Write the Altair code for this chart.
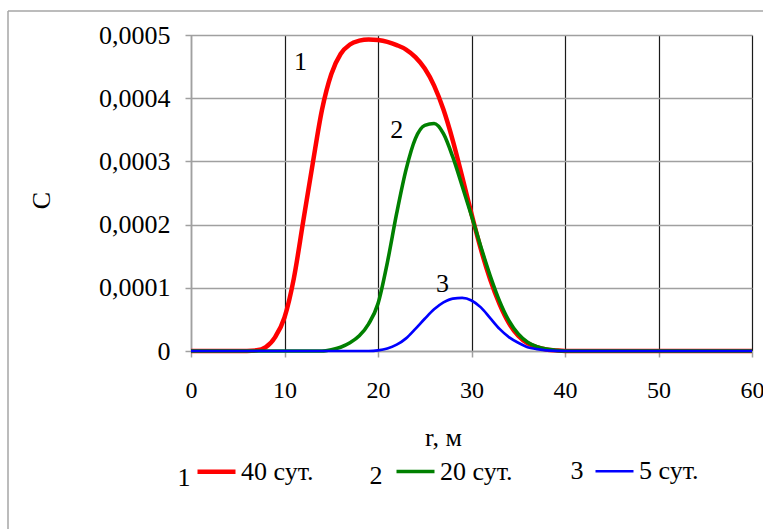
import altair as alt
import pandas as pd

# ---- data ----
series_names = ["40 сут.", "20 сут.", "5 сут."]
series_colors = ["#ff0000", "#008000", "#0000ff"]

r_40 = [0, 5, 7, 8, 9, 10, 11, 12, 13, 14, 15, 16, 17, 18, 19, 20, 21, 22, 23, 24, 25, 26, 27, 28,
        29, 30, 31, 32, 33, 34, 35, 36, 37, 38, 39, 40, 45, 50, 55, 60]
c_40 = [0, 0, 0.000001, 0.000006, 0.000022, 0.000053, 0.000115, 0.000205, 0.000295, 0.000381,
        0.000438, 0.000470, 0.000485, 0.000491, 0.000493, 0.000492, 0.000489, 0.000484, 0.000477,
        0.000465, 0.000447, 0.000420, 0.000382, 0.000333, 0.000276, 0.000217, 0.000161, 0.000113,
        0.000074, 0.000044, 0.000024, 0.000012, 0.000006, 0.0000025, 0.000001, 0, 0, 0, 0, 0]

r_20 = [0, 10, 14, 15, 16, 17, 18, 19, 20, 21, 22, 23, 24, 25, 26, 27, 28, 29, 30, 31, 32, 33,
        34, 35, 36, 37, 38, 39, 40, 45, 50, 55, 60]
c_20 = [0, 0, 0, 0.000002, 0.000006, 0.000013, 0.000024, 0.000043, 0.000075, 0.000140, 0.000218,
        0.000287, 0.000336, 0.000357, 0.000360, 0.000344, 0.000307, 0.000261, 0.000214, 0.000165,
        0.000119, 0.000079, 0.000048, 0.000027, 0.000014, 0.000007, 0.000003, 0.000001, 0, 0, 0,
        0, 0]

r_5 = [0, 10, 19, 20, 21, 22, 23, 24, 25, 26, 27, 28, 29, 30, 31, 32, 33, 34, 35, 36, 37, 38,
       40, 45, 50, 55, 60]
c_5 = [0, 0, 0, 0.000001, 0.000004, 0.000010, 0.000020, 0.000035, 0.000051, 0.000066, 0.000077,
       0.000083, 0.000084, 0.000080, 0.000069, 0.000052, 0.000035, 0.000022, 0.000013, 0.000006,
       0.000003, 0.000001, 0, 0, 0, 0, 0]

curve_labels = ["1", "2", "3"]
curve_label_r = [11.7, 22.0, 26.9]
curve_label_c = [0.000457, 0.000349, 0.000106]

legend_prefix = ["1", "2", "3"]

x_ticks = [0, 10, 20, 30, 40, 50, 60]
y_ticks = [0, 0.0001, 0.0002, 0.0003, 0.0004, 0.0005]

FONT = "Times New Roman, Liberation Serif, DejaVu Serif, serif"

rows = []
for name, rs, cs in [(series_names[0], r_40, c_40), (series_names[1], r_20, c_20),
                     (series_names[2], r_5, c_5)]:
    for r, c in zip(rs, cs):
        rows.append({"series": name, "r": r, "C": c})
df = pd.DataFrame(rows)

x_enc = alt.X("r:Q", scale=alt.Scale(domain=[0, 60], nice=False),
              axis=alt.Axis(values=x_ticks, title="r, м", grid=True, gridColor="#1a1a1a",
                            gridWidth=1.2, labelPadding=21, titleY=86, labelFontSize=24,
                            labelFlush=False,
                            titleBaseline="middle", titleX=252, titleFontSize=26))
y_enc = alt.Y("C:Q", scale=alt.Scale(domain=[0, 0.0005], nice=False),
              axis=alt.Axis(values=y_ticks, title="C", grid=True, gridColor="#a0a0a0",
                            gridWidth=1.5, labelPadding=15, labelFontSize=26,
                            labelFlush=False,
                            labelExpr="datum.value == 0 ? '0' : replace(format(datum.value, '.4f'), '.', ',')",
                            titleX=-150, titleY=165, titleAngle=-90, titleFontSize=26,
                            titleBaseline="middle", titleAlign="center"))

lines = alt.Chart(df).mark_line(interpolate="monotone").encode(
    x=x_enc,
    y=y_enc,
    color=alt.Color("series:N",
                    scale=alt.Scale(domain=series_names, range=series_colors),
                    sort=series_names,
                    legend=alt.Legend(title=None, orient="none", legendX=4, legendY=415,
                                      direction="horizontal", columns=3, gridAlign="all",
                                      columnPadding=75, symbolType="stroke", symbolSize=1444,
                                      symbolStrokeWidth=3.5, labelFont=FONT, labelFontSize=26,
                                      labelColor="black", labelOffset=3, padding=0,
                                      labelLimit=200)),
    strokeWidth=alt.StrokeWidth("series:N",
                                scale=alt.Scale(domain=series_names, range=[4.5, 2.7, 3]),
                                legend=None),
    order=alt.Order("r:Q"),
)

ann_df = pd.DataFrame({"label": curve_labels, "r": curve_label_r, "C": curve_label_c})
annotations = alt.Chart(ann_df).mark_text(font=FONT, fontSize=26, color="black").encode(
    x="r:Q", y="C:Q", text="label:N")

prefix_x = [-7, 185, 386]
prefix_y = [443, 441, 436]
prefix_layers = [
    alt.Chart(pd.DataFrame({"label": [legend_prefix[i]]})).mark_text(
        font=FONT, fontSize=26, color="black", baseline="middle").encode(
        x=alt.value(prefix_x[i]), y=alt.value(prefix_y[i]), text="label:N")
    for i in range(3)
]

frame = alt.Data(values=[{}])
border_top = alt.Chart(frame).mark_rule(color="#a6a6a6", strokeWidth=1.5).encode(
    x=alt.value(-183), x2=alt.value(700), y=alt.value(-24))
border_left = alt.Chart(frame).mark_rule(color="#a6a6a6", strokeWidth=1.5).encode(
    x=alt.value(-183), y=alt.value(-24), y2=alt.value(600))

chart = alt.layer(border_top, border_left, lines, annotations, *prefix_layers).properties(
    width=561, height=316,
    autosize=alt.AutoSizeParams(type="none"),
    padding={"left": 191, "top": 35, "right": 11, "bottom": 178},
    background="white",
).configure_axis(
    labelFont=FONT, labelColor="black",
    titleFont=FONT, titleFontWeight="normal", titleColor="black",
    domainColor="#a0a0a0", domainWidth=1.5, tickColor="#a0a0a0", tickSize=6, tickWidth=1.5,
).configure_view(strokeWidth=0)

chart.save("out.html", embed_options={"renderer": "svg", "actions": False})
